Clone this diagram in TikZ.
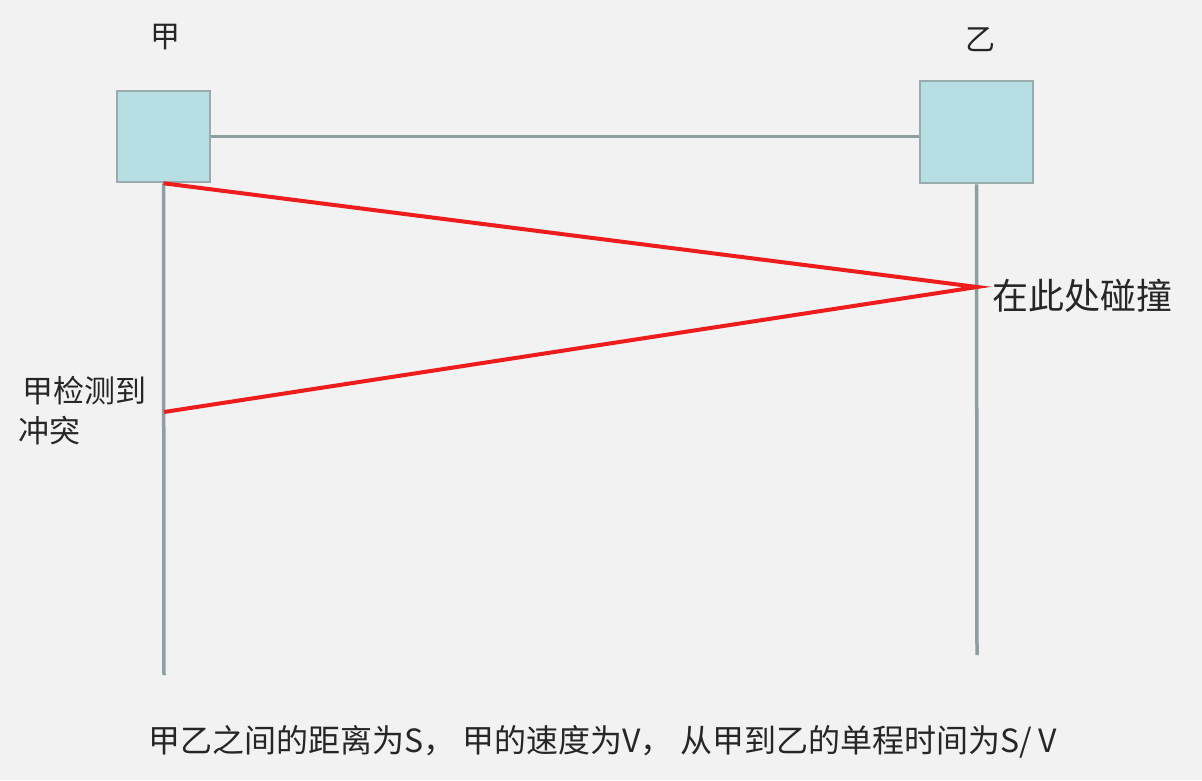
\documentclass[tikz,border=0pt]{standalone}
\usepackage{fontspec}
\newfontfamily\cjk{Noto Sans CJK SC}
\definecolor{bgc}{HTML}{F2F2F2}
\definecolor{boxfill}{HTML}{B7DFE3}
\definecolor{boxline}{HTML}{9AABAE}
\definecolor{lifeline}{HTML}{8E9FA2}
\definecolor{redline}{HTML}{EE1C1C}
\begin{document}
\begin{tikzpicture}[x=1pt,y=-1pt,
  station/.style={draw=boxline,line width=2.5pt,fill=boxfill,inner sep=0pt},
  life/.style={draw=lifeline,line width=3.5pt},
  signal/.style={draw=redline,line width=4pt,line join=miter},
  lbl/.style={inner sep=0pt,font=\cjk\fontsize{30}{36}\selectfont,text=black!85}]
\fill[bgc] (0,0) rectangle (1202,780);
\useasboundingbox (0,0) rectangle (1202,780);
\node[station,minimum width=93pt,minimum height=91pt] (A) at (163.5,136.5) {};
\node[station,minimum width=113pt,minimum height=102pt] (B) at (976.5,132) {};
\node[lbl] (tA) at (165,37) {甲};
\node[lbl] (tB) at (980,40) {乙};
\coordinate (Aend) at (164,675);
\coordinate (Bend) at (977,655);
\coordinate (hit) at (977,287);
\coordinate (det) at (164,412);
\draw[life] (A.east) -- (A.east -| B.west);
\draw[life] (A.south) -- (Aend);
\draw[life] (B.south) -- (Bend);
\draw[signal] (A.south) -- (hit) -- (det);
\node[lbl,anchor=west,font=\cjk\fontsize{36}{40}\selectfont] (lhit) at (992,296) {在此处碰撞};
\node[lbl,anchor=north west,align=left,font=\cjk\fontsize{31}{40}\selectfont] (ldet) at (18,376) {\hspace{4pt}甲检测到\\冲突};
\node[lbl,anchor=west,font=\cjk\fontsize{32}{36}\selectfont] (cap) at (148,742) {甲乙之间的距离为S，\ 甲的速度为V，\ 从甲到乙的单程时间为S/ V};
\end{tikzpicture}
\end{document}
